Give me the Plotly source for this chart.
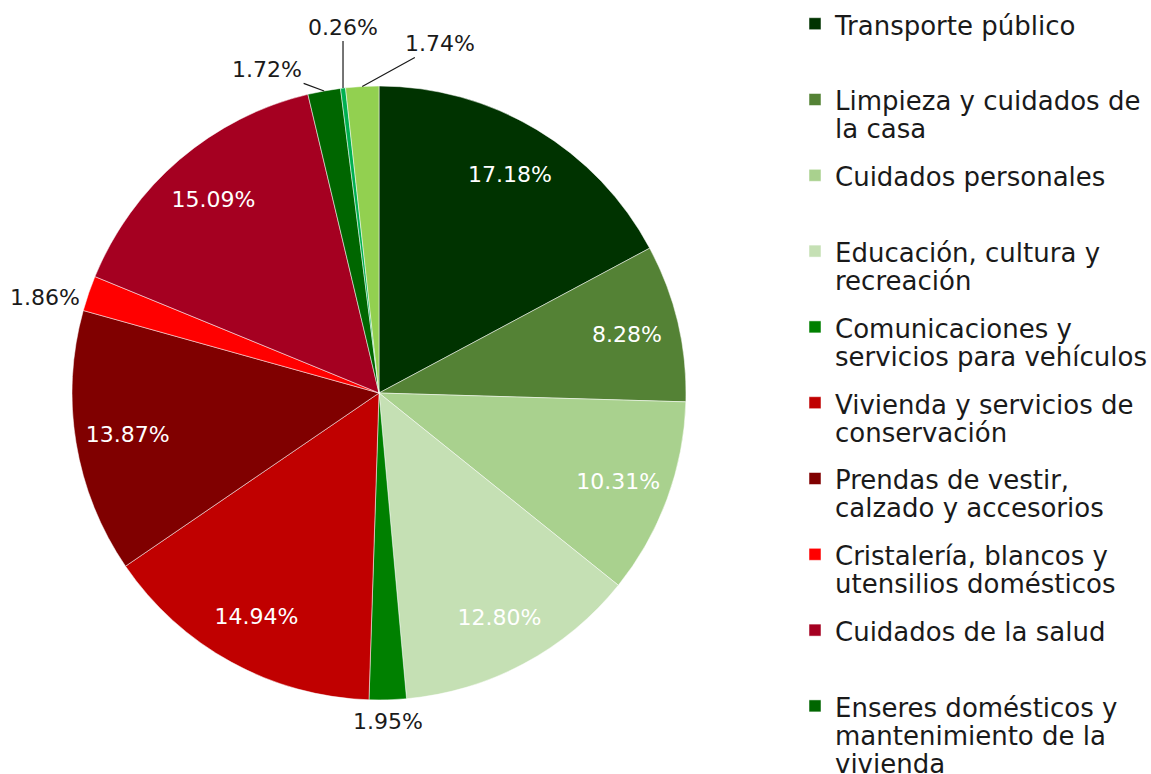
import math
import plotly.graph_objects as go

categories = [
    "Transporte público",
    "Limpieza y cuidados de la casa",
    "Cuidados personales",
    "Educación, cultura y recreación",
    "Comunicaciones y servicios para vehículos",
    "Vivienda y servicios de conservación",
    "Prendas de vestir, calzado y accesorios",
    "Cristalería, blancos y utensilios domésticos",
    "Cuidados de la salud",
    "Enseres domésticos y mantenimiento de la vivienda",
    "Artículos de esparcimiento",
    "Otros servicios",
]
legend_names = [
    "Transporte público<br> ",
    "Limpieza y cuidados de<br>la casa",
    "Cuidados personales<br> ",
    "Educación, cultura y<br>recreación",
    "Comunicaciones y<br>servicios para vehículos",
    "Vivienda y servicios de<br>conservación",
    "Prendas de vestir,<br>calzado y accesorios",
    "Cristalería, blancos y<br>utensilios domésticos",
    "Cuidados de la salud<br> ",
    "Enseres domésticos y<br>mantenimiento de la<br>vivienda",
    "Artículos de<br>esparcimiento",
    "Otros servicios<br> ",
]
values = [17.18, 8.28, 10.31, 12.80, 1.95, 14.94, 13.87, 1.86, 15.09, 1.72, 0.26, 1.74]
colors = ["#003300", "#548235", "#A9D18E", "#C5E0B4", "#008000", "#C00000",
          "#800000", "#FF0000", "#A50021", "#006600", "#00B050", "#92D050"]

W, H = 1151, 1080
cx, cy, r = 379, 393, 307
dom = dict(x=[(cx - r) / W, (cx + r) / W], y=[1 - (cy + r) / H, 1 - (cy - r) / H])

FONT = "DejaVu Sans"
TXT = "#1a1a1a"
small = [v < 5 for v in values]

# main pie: slices and legend
fig = go.Figure(go.Pie(
    labels=[f"<span style='font-size:26px'>{n}</span>" for n in legend_names],
    values=values,
    sort=False,
    direction="clockwise",
    rotation=0,
    marker=dict(colors=colors, line=dict(color="white", width=0.5)),
    textinfo="none",
    hoverinfo="label+percent",
    domain=dom,
))

# transparent ring on top, only to place the inside labels near the rim
fig.add_trace(go.Pie(
    labels=categories,
    values=values,
    sort=False,
    direction="clockwise",
    rotation=0,
    hole=0.66,
    marker=dict(colors=["rgba(0,0,0,0)"] * len(values), line=dict(width=0)),
    texttemplate="%{percent:.2%}",
    textposition=["none" if s else "inside" for s in small],
    insidetextorientation="horizontal",
    insidetextfont=dict(color="white", size=22, family=FONT),
    hoverinfo="skip",
    showlegend=False,
    domain=dom,
))

# outside labels of the thin slices (placement offsets in px and leader line)
label_place = {
    4: dict(ax=0, ay=22, arrow=False),
    7: dict(ax=-44, ay=4, arrow=False),
    9: dict(ax=-57, ay=-21, arrow=True),
    10: dict(ax=0, ay=-61, arrow=True),
    11: dict(ax=78, ay=-43, arrow=True),
}
total = sum(values)
cum = 0.0
for i, v in enumerate(values):
    mid = (cum + v / 2) / total * 2 * math.pi
    cum += v
    if i not in label_place:
        continue
    p = label_place[i]
    px = cx + r * math.sin(mid)
    py = cy - r * math.cos(mid)
    txt = f"{v / total * 100:.2f}%"
    if p["arrow"]:
        fig.add_annotation(
            x=px / W, y=1 - py / H, xref="paper", yref="paper",
            text=txt, showarrow=True, arrowhead=0, arrowwidth=1.2, arrowcolor=TXT,
            ax=p["ax"], ay=p["ay"], standoff=0,
            font=dict(size=22, family=FONT, color=TXT),
        )
    else:
        fig.add_annotation(
            x=px / W, y=1 - py / H, xref="paper", yref="paper",
            text=txt, showarrow=False, xshift=p["ax"], yshift=-p["ay"],
            xanchor="center", yanchor="middle",
            font=dict(size=22, family=FONT, color=TXT),
        )

fig.update_layout(
    width=W, height=H,
    margin=dict(l=0, r=0, t=0, b=0, autoexpand=False),
    paper_bgcolor="white",
    font=dict(family=FONT, color=TXT),
    legend=dict(
        x=795 / W, xanchor="left",
        y=1 + 1 / H, yanchor="top",
        valign="top",
        maxheight=1070,
        font=dict(size=28, family=FONT, color=TXT),
        bgcolor="rgba(0,0,0,0)",
    ),
)

# page: no margin, no scrollbars; legend lines set 28px apart as in the reference
post = ("document.body.style.margin='0';"
        "document.body.style.overflow='hidden';"
        "document.documentElement.style.overflow='hidden';"
        "document.querySelectorAll('text.legendtext').forEach(function(t){t.style.fontSize='21.5px';});")
fig.write_html("out.html", post_script=post, config={"displayModeBar": False})
